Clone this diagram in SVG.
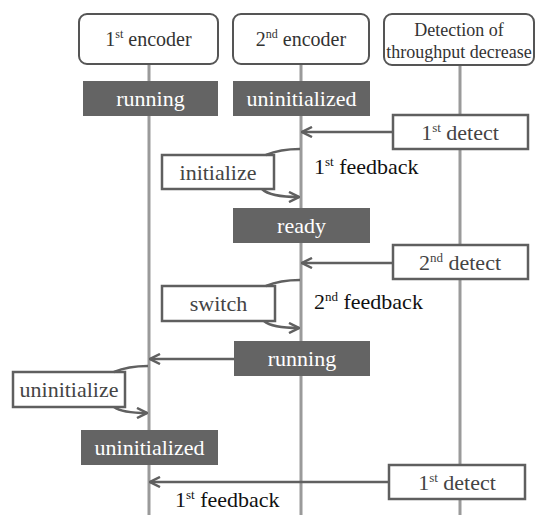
<svg xmlns="http://www.w3.org/2000/svg" width="536" height="515" viewBox="0 0 536 515">
<defs>
<style>
.hdr{fill:#fff;stroke:#555;stroke-width:2}
.life{stroke:#9a9a9a;stroke-width:3;fill:none}
.dark{fill:#646464}
.wbox{fill:#fff;stroke:#5f5f5f;stroke-width:2.5}
.arr{stroke:#606060;stroke-width:2.5;fill:none}
text{font-family:'Liberation Serif','Times New Roman',Tinos,'DejaVu Serif',serif}
.t{text-anchor:middle}
.ht{font-size:20px;fill:#333}
.ht2{font-size:18px;fill:#333}
.dt{font-size:22px;fill:#fff}
.bt{font-size:22px;fill:#444}
.fb{font-size:22px;fill:#111}
</style>
<marker id="ah" viewBox="0 0 12 12" refX="11" refY="6" markerWidth="12" markerHeight="12" markerUnits="userSpaceOnUse" orient="auto">
<path d="M1,1 L11,6 L1,11" fill="none" stroke="#606060" stroke-width="2.5"/>
</marker>
</defs>
<g id="lifelines">
<line class="life" x1="149" y1="64" x2="149" y2="515"/>
<line class="life" x1="301" y1="64" x2="301" y2="515"/>
<line class="life" x1="460" y1="65" x2="460" y2="515"/>
</g>
<g id="enc1"><rect class="hdr" x="79" y="14" width="139" height="50" rx="8"/>
<text class="t ht" x="148.5" y="46">1<tspan font-size="12" dy="-8">st</tspan><tspan dy="8"> encoder</tspan></text></g>
<g id="enc2"><rect class="hdr" x="233" y="14" width="136" height="50" rx="8"/>
<text class="t ht" x="301" y="46">2<tspan font-size="12" dy="-8">nd</tspan><tspan dy="8"> encoder</tspan></text></g>
<g id="detection"><rect class="hdr" x="384" y="14" width="150" height="51" rx="8"/>
<text class="t ht2" x="459" y="36">Detection of</text>
<text class="t ht2" x="459" y="58">throughput decrease</text></g>
<g id="running1"><rect class="dark" x="83" y="81" width="135" height="35"/><text class="t dt" x="150.5" y="106">running</text></g>
<g id="uninit2"><rect class="dark" x="233" y="81" width="137" height="35"/><text class="t dt" x="301.5" y="106">uninitialized</text></g>
<g id="detect1"><rect class="wbox" x="393" y="115" width="135" height="34"/><text class="t bt" x="460" y="140">1<tspan font-size="13" dy="-8">st</tspan><tspan dy="8"> detect</tspan></text></g>
<g id="initialize"><rect class="wbox" x="162" y="155" width="112" height="34"/><text class="t bt" x="218" y="180">initialize</text></g>
<g id="ready"><rect class="dark" x="233" y="208" width="137" height="35"/><text class="t dt" x="301.5" y="233">ready</text></g>
<g id="detect2"><rect class="wbox" x="393" y="245" width="135" height="34"/><text class="t bt" x="460" y="270">2<tspan font-size="13" dy="-8">nd</tspan><tspan dy="8"> detect</tspan></text></g>
<g id="switch"><rect class="wbox" x="162" y="286" width="113" height="35"/><text class="t bt" x="218.5" y="311">switch</text></g>
<g id="running2"><rect class="dark" x="234" y="341" width="136" height="35"/><text class="t dt" x="302" y="366">running</text></g>
<g id="uninitialize"><rect class="wbox" x="13" y="372" width="112" height="35"/><text class="t bt" x="69" y="397">uninitialize</text></g>
<g id="uninit1"><rect class="dark" x="81" y="430" width="137" height="35"/><text class="t dt" x="149.5" y="455">uninitialized</text></g>
<g id="detect3"><rect class="wbox" x="389" y="465" width="136" height="34"/><text class="t bt" x="457" y="490">1<tspan font-size="13" dy="-8">st</tspan><tspan dy="8"> detect</tspan></text></g>
<g id="connectors">
<line class="arr" x1="393" y1="132" x2="302" y2="132" marker-end="url(#ah)"/>
<path class="arr" d="M300,149 Q280,149 266,155"/>
<path class="arr" d="M262,189 Q270,197 299,197" marker-end="url(#ah)"/>
<line class="arr" x1="393" y1="263" x2="302" y2="263" marker-end="url(#ah)"/>
<path class="arr" d="M300,280 Q280,280 266,286"/>
<path class="arr" d="M264,321 Q272,328 299,328" marker-end="url(#ah)"/>
<line class="arr" x1="234" y1="359" x2="150" y2="359" marker-end="url(#ah)"/>
<path class="arr" d="M148,366 Q128,366 114,372"/>
<path class="arr" d="M114,407 Q122,413 147,413" marker-end="url(#ah)"/>
<line class="arr" x1="389" y1="482" x2="150" y2="482" marker-end="url(#ah)"/>
</g>
<g id="labels">
<text class="fb" x="314" y="174">1<tspan font-size="13" dy="-8">st</tspan><tspan dy="8"> feedback</tspan></text>
<text class="fb" x="314" y="309">2<tspan font-size="13" dy="-8">nd</tspan><tspan dy="8"> feedback</tspan></text>
<text class="fb" x="175" y="507">1<tspan font-size="13" dy="-8">st</tspan><tspan dy="8"> feedback</tspan></text>
</g>
</svg>
